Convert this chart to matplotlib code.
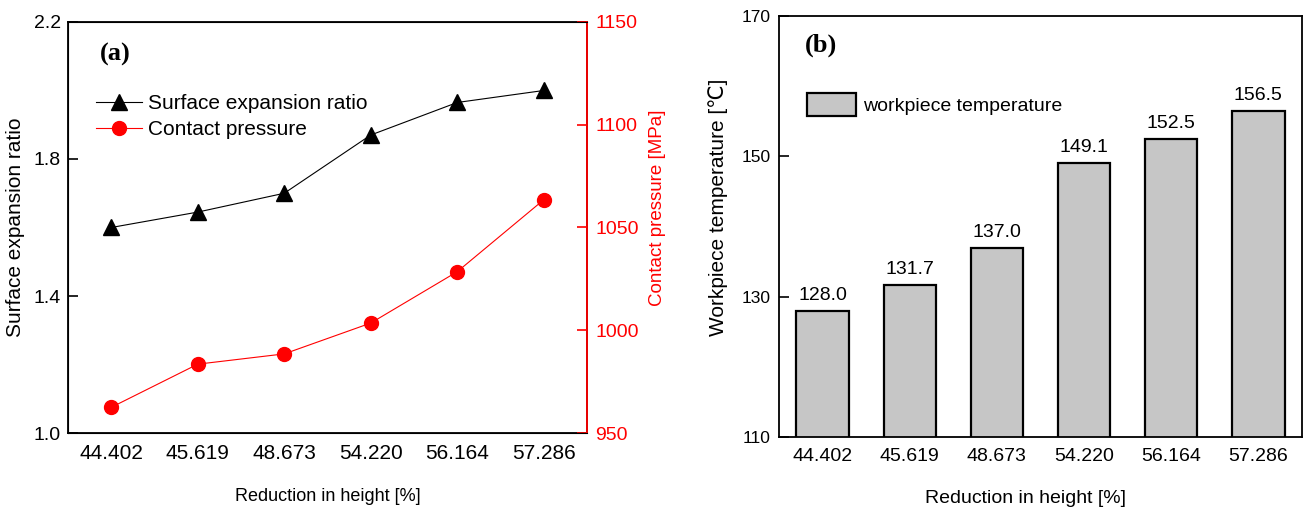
import matplotlib
matplotlib.use("Agg")
import matplotlib.pyplot as plt

plt.rcParams['font.family'] = ['Liberation Sans', 'DejaVu Sans']

categories = ["44.402", "45.619", "48.673", "54.220", "56.164", "57.286"]
surface_ratio = [1.60, 1.645, 1.70, 1.87, 1.965, 2.00]
contact_pressure = [962.5, 983.5, 988.5, 1003.5, 1028.5, 1063.5]
workpiece_temp = [128.0, 131.7, 137.0, 149.1, 152.5, 156.5]
bar_labels = ["128.0", "131.7", "137.0", "149.1", "152.5", "156.5"]

fig = plt.figure(figsize=(13.03, 5.09), dpi=100)

# ---------- panel (a) ----------
ax1 = fig.add_axes([0.0522, 0.1493, 0.3983, 0.8075])
x = list(range(len(categories)))
l1, = ax1.plot(x, surface_ratio, color='black', lw=0.8, marker='^', ms=12,
               label='Surface expansion ratio')
ax1.set_ylim(1.0, 2.2)
ax1.set_yticks([1.0, 1.4, 1.8, 2.2])
ax1.set_xlim(-0.5, 5.5)
ax1.set_xticks(x)
ax1.set_xticklabels(categories)
ax1.tick_params(axis='x', length=0, labelsize=15, pad=8)
ax1.tick_params(axis='y', direction='in', length=7, width=1.2, labelsize=14, pad=5)
ax1.set_ylabel('Surface expansion ratio', fontsize=15, labelpad=6)
ax1.set_xlabel('Reduction in height [%]', fontsize=13, labelpad=18)
for s in ax1.spines.values():
    s.set_linewidth(1.3)

ax1r = ax1.twinx()
l2, = ax1r.plot(x, contact_pressure, color='red', lw=0.8, marker='o', ms=10,
                label='Contact pressure')
ax1r.set_ylim(950, 1150)
ax1r.set_yticks([950, 1000, 1050, 1100, 1150])
ax1r.tick_params(axis='y', direction='in', length=7, width=1.2, labelsize=14,
                 colors='red', pad=6)
ax1r.spines['right'].set_color('red')
ax1r.spines['right'].set_linewidth(1.3)
ax1r.set_ylabel('Contact pressure [MPa]', color='red', fontsize=13.5, labelpad=6)
ax1r.yaxis.set_label_coords(1.12, 0.547)

ax1.text(0.062, 0.92, '(a)', transform=ax1.transAxes, fontsize=19,
         fontweight='bold', family='Liberation Serif', va='center', ha='left')
ax1.legend(handles=[l1, l2], loc='upper left', bbox_to_anchor=(0.054, 0.825),
           frameon=False, fontsize=15, handlelength=2.2, handletextpad=0.3,
           labelspacing=0.35, borderpad=0, borderaxespad=0)

# ---------- panel (b) ----------
ax2 = fig.add_axes([0.5978, 0.1415, 0.4014, 0.8271])
bars = ax2.bar(x, workpiece_temp, width=0.6, color='#c6c6c6', edgecolor='black',
               linewidth=1.6, label='workpiece temperature')
ax2.set_ylim(110, 170)
ax2.set_yticks([110, 130, 150, 170])
ax2.set_xlim(-0.5, 5.5)
ax2.set_xticks(x)
ax2.set_xticklabels(categories)
ax2.tick_params(axis='x', length=0, labelsize=14, pad=8)
ax2.tick_params(axis='y', direction='in', length=7, width=1.2, labelsize=12.5, pad=6)
ax2.set_ylabel('Workpiece temperature [\u2103]', fontsize=15, labelpad=10)
ax2.yaxis.set_label_coords(-0.098, 0.546)
ax2.set_xlabel('Reduction in height [%]', fontsize=14, labelpad=18)
ax2.xaxis.set_label_coords(0.472, -0.125)
for s in ax2.spines.values():
    s.set_linewidth(1.3)
ax2.bar_label(bars, labels=bar_labels, padding=5, fontsize=14)
ax2.text(0.05, 0.931, '(b)', transform=ax2.transAxes, fontsize=19,
         fontweight='bold', family='Liberation Serif', va='center', ha='left')
ax2.legend(loc='upper left', bbox_to_anchor=(0.054, 0.818), frameon=False,
           fontsize=14, handlelength=2.5, handleheight=1.5, handletextpad=0.35,
           borderpad=0, borderaxespad=0)

fig.savefig('out.png', dpi=100)
